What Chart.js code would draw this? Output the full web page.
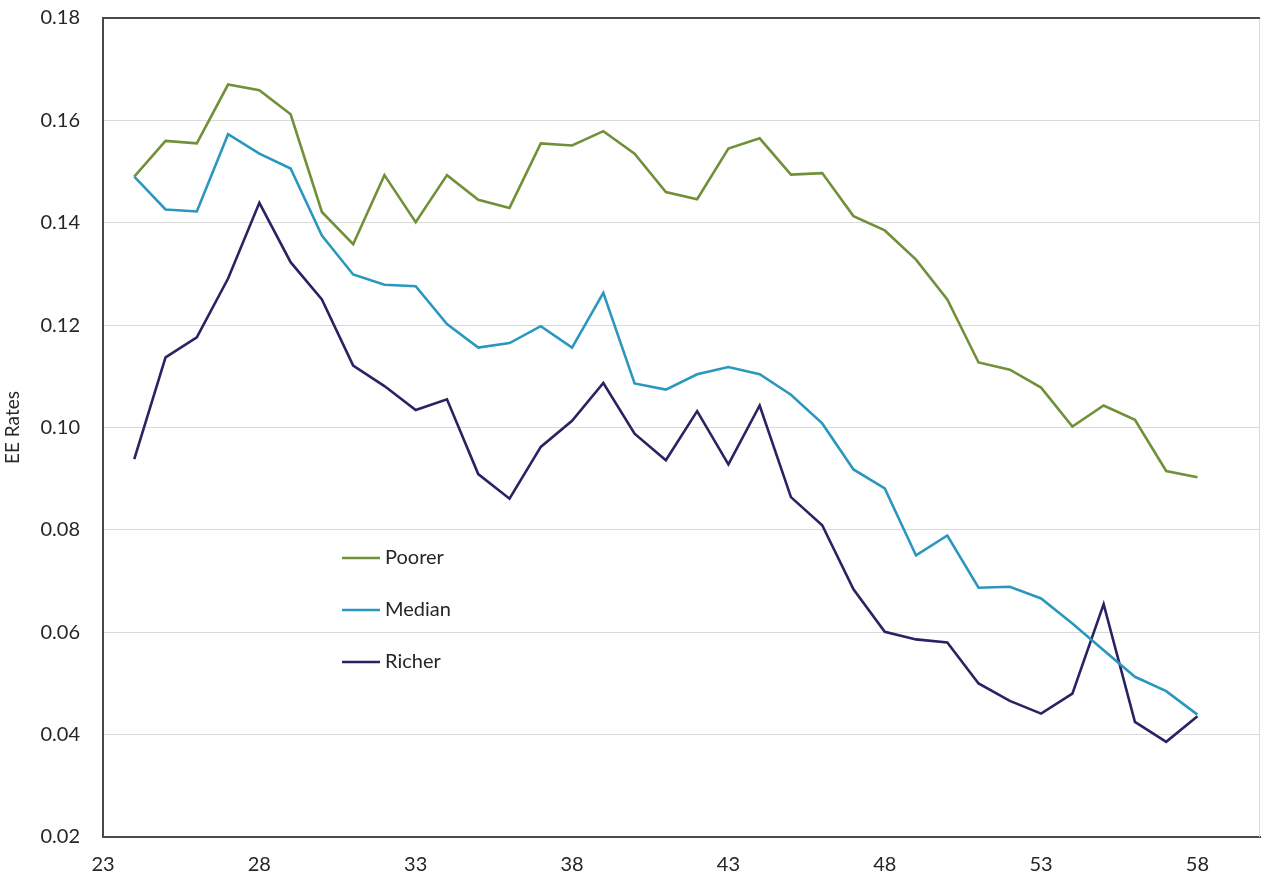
<!DOCTYPE html>
<html>
<head>
<meta charset="utf-8">
<script src="https://cdn.jsdelivr.net/npm/chart.js@4.4.1/dist/chart.umd.min.js"></script>
<style>
  html, body { margin: 0; padding: 0; background: #ffffff; }
  #wrap { width: 1261px; height: 880px; position: relative; }
</style>
</head>
<body>
<div id="wrap"><canvas id="c" width="1261" height="880"></canvas></div>
<script>
// Age (years)
const ages = [24, 25, 26, 27, 28, 29, 30, 31, 32, 33, 34, 35, 36, 37, 38, 39, 40, 41,
              42, 43, 44, 45, 46, 47, 48, 49, 50, 51, 52, 53, 54, 55, 56, 57, 58];

// EE rates by group
const poorer = [0.1490, 0.1560, 0.1555, 0.1670, 0.1659, 0.1612, 0.1421, 0.1358, 0.1493, 0.1401,
                0.1493, 0.1445, 0.1429, 0.1555, 0.1551, 0.1579, 0.1535, 0.1460, 0.1446, 0.1545,
                0.1565, 0.1494, 0.1497, 0.1413, 0.1385, 0.1328, 0.1250, 0.1127, 0.1113, 0.1078,
                0.1002, 0.1043, 0.1015, 0.0915, 0.0903];

const median = [0.1490, 0.1426, 0.1422, 0.1573, 0.1535, 0.1506, 0.1375, 0.1299, 0.1279, 0.1276,
                0.1202, 0.1156, 0.1165, 0.1198, 0.1156, 0.1263, 0.1086, 0.1074, 0.1104, 0.1118,
                0.1104, 0.1064, 0.1008, 0.0918, 0.0881, 0.0750, 0.0789, 0.0687, 0.0689, 0.0666,
                0.0617, 0.0565, 0.0513, 0.0485, 0.0439];

const richer = [0.0938, 0.1137, 0.1176, 0.1291, 0.1439, 0.1323, 0.1250, 0.1121, 0.1081, 0.1034,
                0.1055, 0.0909, 0.0861, 0.0962, 0.1013, 0.1087, 0.0988, 0.0936, 0.1032, 0.0928,
                0.1043, 0.0864, 0.0809, 0.0684, 0.0601, 0.0586, 0.0580, 0.0500, 0.0466, 0.0441,
                0.0480, 0.0655, 0.0425, 0.0386, 0.0436];

// Axis tick labels
const xTicks = [23, 28, 33, 38, 43, 48, 53, 58];
const yTicks = [0.02, 0.04, 0.06, 0.08, 0.10, 0.12, 0.14, 0.16, 0.18];

const seriesNames = ['Poorer', 'Median', 'Richer'];
const seriesColors = ['#71903A', '#2B97BF', '#2A2262'];

const FONT = 'Lato, "Open Sans", "Liberation Sans", sans-serif';
const TEXT = '#262626';
const AXIS = '#4a4a4a';
const GRID = '#d9d9d9';

function pts(vals) { return ages.map((a, i) => ({ x: a, y: vals[i] })); }

// Frame lines (top dark, right light) and the in-plot legend
const decorPlugin = {
  id: 'decor',
  afterDatasetsDraw(chart) {
    const { ctx, chartArea: a } = chart;
    ctx.save();
    ctx.lineWidth = 1;
    ctx.strokeStyle = GRID;
    ctx.beginPath();
    ctx.moveTo(a.right - 0.5, a.top);
    ctx.lineTo(a.right - 0.5, a.bottom);
    ctx.stroke();
    ctx.lineWidth = 2;
    ctx.strokeStyle = AXIS;
    ctx.beginPath();
    ctx.moveTo(a.left, a.top);
    ctx.lineTo(a.right, a.top);
    ctx.stroke();

    // legend
    const lx = a.left + 239, ly = a.top + 540, gap = 52;
    ctx.font = '20px ' + FONT;
    ctx.textBaseline = 'middle';
    ctx.textAlign = 'left';
    seriesNames.forEach((name, i) => {
      const y = ly + i * gap;
      ctx.strokeStyle = seriesColors[i];
      ctx.lineWidth = 2.5;
      ctx.beginPath();
      ctx.moveTo(lx, y);
      ctx.lineTo(lx + 38, y);
      ctx.stroke();
      ctx.fillStyle = TEXT;
      ctx.fillText(name, lx + 43, y);
    });
    ctx.restore();
  }
};

new Chart(document.getElementById('c'), {
  type: 'scatter',
  data: {
    datasets: [poorer, median, richer].map((vals, i) => ({
      label: seriesNames[i],
      data: pts(vals),
      showLine: true,
      borderColor: seriesColors[i],
      backgroundColor: seriesColors[i],
      borderWidth: 2.6,
      pointRadius: 0,
      pointHoverRadius: 0,
      tension: 0,
      borderJoinStyle: 'miter'
    }))
  },
  options: {
    responsive: false,
    animation: false,
    devicePixelRatio: 1,
    layout: { padding: { top: 18, right: 1, left: 0, bottom: 0 } },
    plugins: {
      legend: { display: false },
      tooltip: { enabled: false }
    },
    scales: {
      x: {
        type: 'linear',
        min: 23,
        max: 60,
        afterBuildTicks(axis) { axis.ticks = xTicks.map(v => ({ value: v })); },
        afterFit(axis) {
          axis.height = 43;
          axis.paddingLeft = 0; axis.paddingRight = 0;
        },
        grid: { display: false, drawTicks: false },
        border: { display: true, color: AXIS, width: 2 },
        ticks: {
          font: { family: FONT, size: 20 },
          color: TEXT,
          padding: 16,
          maxRotation: 0,
          autoSkip: false
        }
      },
      y: {
        type: 'linear',
        min: 0.02,
        max: 0.18,
        afterBuildTicks(axis) { axis.ticks = yTicks.map(v => ({ value: v })); },
        afterFit(axis) {
          axis.width = 103;
          axis.paddingTop = 0; axis.paddingBottom = 0;
        },
        grid: { color: GRID, lineWidth: 1, drawTicks: false },
        border: { display: true, color: AXIS, width: 2 },
        title: {
          display: true,
          text: 'EE Rates',
          font: { family: FONT, size: 19 },
          color: TEXT,
          padding: { top: 1, bottom: 0 }
        },
        ticks: {
          font: { family: FONT, size: 20 },
          color: TEXT,
          padding: 23,
          autoSkip: false,
          callback: v => v.toFixed(2)
        }
      }
    }
  },
  plugins: [decorPlugin]
});
</script>
</body>
</html>
